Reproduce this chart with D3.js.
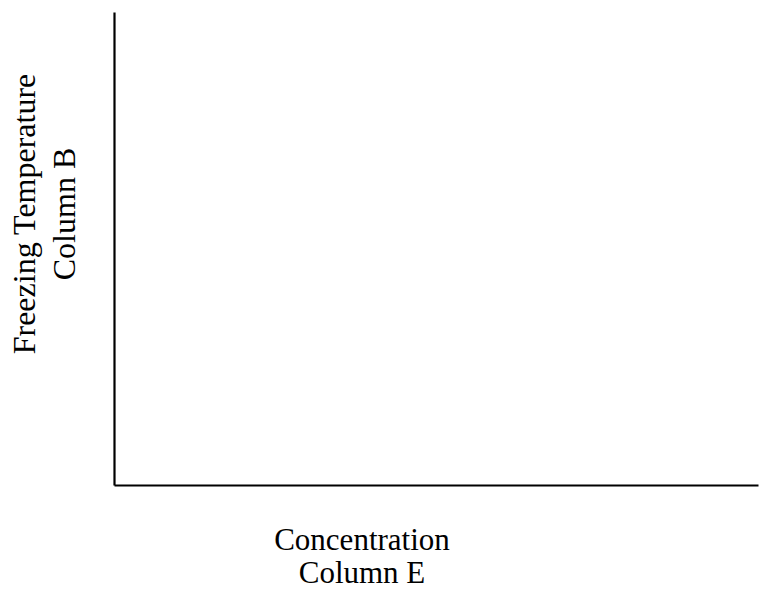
<!DOCTYPE html>
<html>
<head>
<meta charset="utf-8">
<script src="https://cdn.jsdelivr.net/npm/d3@7"></script>
<style>
  body { margin: 0; background: #fff; }
  text { font-family: "Liberation Serif", "Times New Roman", serif; fill: #000; }
</style>
</head>
<body>
<div id="vis1"></div>
<script>
// axis titles, one entry per line
const xTitle = ["Concentration", "Column E"];
const yTitle = ["Freezing Temperature", "Column B"];
// empty chart: no ticks, no points
const xTicks = [];
const yTicks = [];

const WIDTH = 759;
const HEIGHT = 591;
const MARGINS = { left: 114, right: 1, top: 12, bottom: 106 };

const svg = d3.select("#vis1")
    .append("svg")
    .attr("width", WIDTH)
    .attr("height", HEIGHT);

const X_SCALE = d3.scaleLinear()
    .domain([0, 1])
    .range([MARGINS.left, WIDTH - MARGINS.right]);

const Y_SCALE = d3.scaleLinear()
    .domain([0, 1])
    .range([HEIGHT - MARGINS.bottom, MARGINS.top]);

// x axis
svg.append("g")
    .attr("transform", "translate(0," + (HEIGHT - MARGINS.bottom) + ")")
    .call(d3.axisBottom(X_SCALE).tickValues(xTicks).tickSizeOuter(0));

// y axis
svg.append("g")
    .attr("transform", "translate(" + MARGINS.left + ",0)")
    .call(d3.axisLeft(Y_SCALE).tickValues(yTicks).tickSizeOuter(0));

svg.selectAll(".domain")
    .attr("stroke", "#000")
    .attr("stroke-width", 2.2);

// x title
svg.append("text")
    .attr("x", 362)
    .attr("y", 550)
    .attr("text-anchor", "middle")
    .attr("font-size", 31)
    .selectAll("tspan")
    .data(xTitle)
    .enter()
    .append("tspan")
    .attr("x", 362)
    .attr("dy", (d, i) => i == 0 ? 0 : 33)
    .text(d => d);

// y title, rotated
svg.append("text")
    .attr("transform", "translate(35,214) rotate(-90)")
    .attr("text-anchor", "middle")
    .attr("font-size", 32)
    .selectAll("tspan")
    .data(yTitle)
    .enter()
    .append("tspan")
    .attr("x", 0)
    .attr("dy", (d, i) => i == 0 ? 0 : 40)
    .text(d => d);
</script>
</body>
</html>
